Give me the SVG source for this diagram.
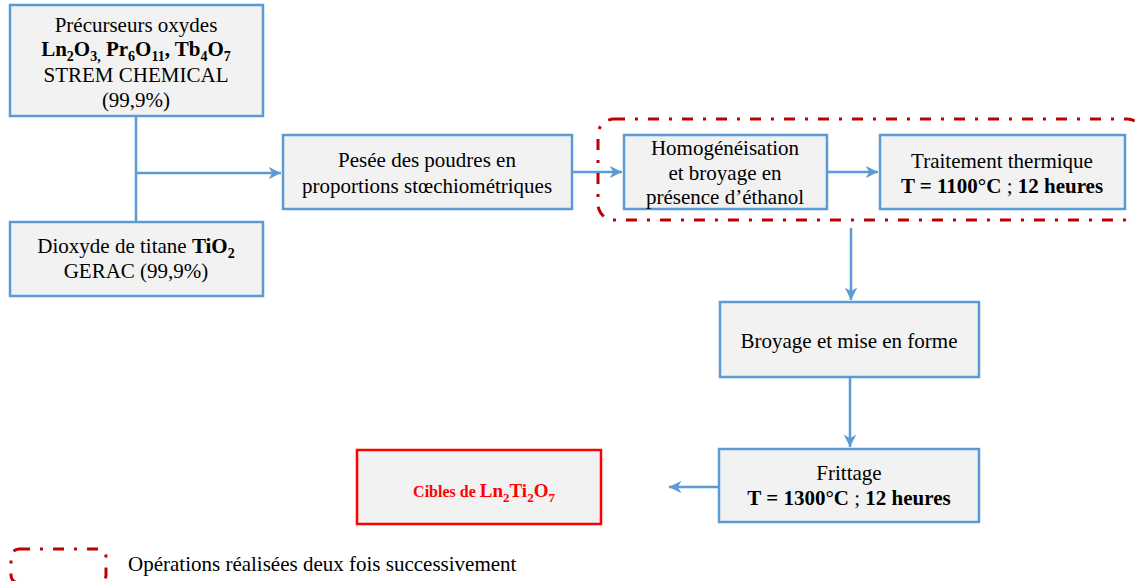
<svg xmlns="http://www.w3.org/2000/svg" width="1135" height="581" viewBox="0 0 1135 581">
<defs>
<style>
.box{fill:#f2f2f2;stroke:#5b9bd5;stroke-width:2.5}
.red{fill:#f2f2f2;stroke:#ff0000;stroke-width:2.5}
.lbl{font-size:21px;fill:#000;text-anchor:middle}
.bd{font-weight:bold}
.ln{stroke:#5b9bd5;stroke-width:2.5;fill:none}
.dash{fill:none;stroke:#c00000;stroke-width:3;stroke-dasharray:11 10 3 10}
</style>
<marker id="ah" viewBox="0 0 10 10" refX="10" refY="5" markerWidth="5" markerHeight="5" orient="auto" markerUnits="strokeWidth">
<path d="M0,0 L10,5 L0,10 L3,5 Z" fill="#5b9bd5"/>
</marker>
</defs>
<rect width="1135" height="581" fill="#fff"/>
<g id="connectors">
<line class="ln" x1="136" y1="116" x2="136" y2="222"/>
<line class="ln" x1="136" y1="173" x2="281" y2="173" marker-end="url(#ah)"/>
<line class="ln" x1="572" y1="172" x2="622" y2="172" marker-end="url(#ah)"/>
<line class="ln" x1="827" y1="172" x2="878" y2="172" marker-end="url(#ah)"/>
<line class="ln" x1="851" y1="228" x2="851" y2="300" marker-end="url(#ah)"/>
<line class="ln" x1="850" y1="377" x2="850" y2="447" marker-end="url(#ah)"/>
<line class="ln" x1="719" y1="487" x2="669" y2="487" marker-end="url(#ah)"/>
</g>
<g id="repeat-group">
<rect class="dash" x="598" y="119" width="545" height="101" rx="16" ry="16"/>
</g>
<g id="precurseurs">
<rect class="box" x="10" y="5" width="253" height="111"/>
<text class="lbl" style="font-family:'Liberation Serif',serif" x="136" y="32">Précurseurs oxydes</text>
<text class="lbl bd" style="font-family:'Liberation Serif',serif" x="136" y="56">Ln<tspan dy="5" font-size="14">2</tspan><tspan dy="-5">O</tspan><tspan dy="5" font-size="14">3,</tspan><tspan dy="-5"> Pr</tspan><tspan dy="5" font-size="14">6</tspan><tspan dy="-5">O</tspan><tspan dy="5" font-size="14">11</tspan><tspan dy="-5">, Tb</tspan><tspan dy="5" font-size="14">4</tspan><tspan dy="-5">O</tspan><tspan dy="5" font-size="14">7</tspan></text>
<text class="lbl" style="font-family:'Liberation Serif',serif" x="136" y="82">STREM CHEMICAL</text>
<text class="lbl" style="font-family:'Liberation Serif',serif" x="136" y="107">(99,9%)</text>
</g>
<g id="dioxyde">
<rect class="box" x="10" y="222" width="253" height="74"/>
<text class="lbl" style="font-family:'Liberation Serif',serif" x="136" y="253">Dioxyde de titane <tspan class="bd">TiO</tspan><tspan class="bd" dy="5" font-size="14">2</tspan></text>
<text class="lbl" style="font-family:'Liberation Serif',serif" x="136" y="278">GERAC (99,9%)</text>
</g>
<g id="pesee">
<rect class="box" x="283" y="135" width="289" height="74"/>
<text class="lbl" style="font-family:'Liberation Serif',serif" x="427" y="167">Pesée des poudres en</text>
<text class="lbl" style="font-family:'Liberation Serif',serif" x="427" y="193">proportions stœchiométriques</text>
</g>
<g id="homogeneisation">
<rect class="box" x="624" y="135" width="203" height="74"/>
<text class="lbl" style="font-family:'Liberation Serif',serif" x="725" y="155">Homogénéisation</text>
<text class="lbl" style="font-family:'Liberation Serif',serif" x="725" y="180">et broyage en</text>
<text class="lbl" style="font-family:'Liberation Serif',serif" x="725" y="204">présence d’éthanol</text>
</g>
<g id="traitement">
<rect class="box" x="880" y="135" width="245" height="74"/>
<text class="lbl" style="font-family:'Liberation Serif',serif" x="1002" y="168">Traitement thermique</text>
<text class="lbl" style="font-family:'Liberation Serif',serif" x="1002" y="193"><tspan class="bd">T = 1100°C</tspan> ; <tspan class="bd">12 heures</tspan></text>
</g>
<g id="broyage">
<rect class="box" x="720" y="302" width="259" height="75"/>
<text class="lbl" style="font-family:'Liberation Serif',serif" x="849" y="348">Broyage et mise en forme</text>
</g>
<g id="frittage">
<rect class="box" x="719" y="449" width="260" height="73"/>
<text class="lbl" style="font-family:'Liberation Serif',serif" x="849" y="480">Frittage</text>
<text class="lbl" style="font-family:'Liberation Serif',serif" x="849" y="505"><tspan class="bd">T = 1300°C</tspan> ; <tspan class="bd">12 heures</tspan></text>
</g>
<g id="cibles">
<rect class="red" x="357" y="450" width="244" height="74"/>
<text class="lbl bd" style="font-family:'Liberation Serif',serif;fill:#ff0000;font-size:19px" x="484" y="497"><tspan font-size="16">Cibles de </tspan>Ln<tspan dy="5" font-size="13">2</tspan><tspan dy="-5">Ti</tspan><tspan dy="5" font-size="13">2</tspan><tspan dy="-5">O</tspan><tspan dy="5" font-size="13">7</tspan></text>
</g>
<g id="legend">
<rect class="dash" x="11" y="549" width="95" height="34" rx="8" ry="8"/>
<text class="lbl" style="font-family:'Liberation Serif',serif;text-anchor:start" x="128" y="571">Opérations réalisées deux fois successivement</text>
</g>
</svg>
